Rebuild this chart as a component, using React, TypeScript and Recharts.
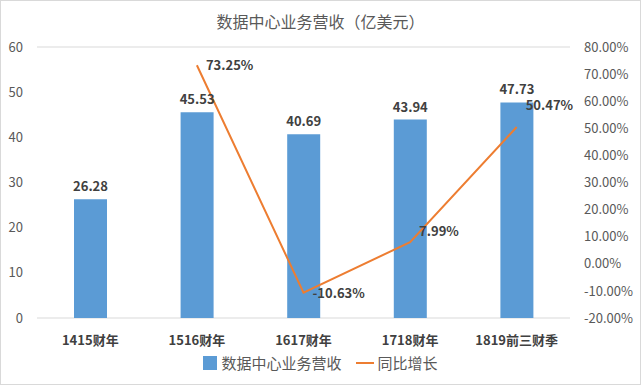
import React from 'react';
import { ComposedChart, Bar, Line, XAxis, YAxis, CartesianGrid, Legend, LabelList } from 'recharts';

const categories = ['1415财年', '1516财年', '1617财年', '1718财年', '1819前三财季'];
const revenue = [26.28, 45.53, 40.69, 43.94, 47.73];
const growth: (number | null)[] = [null, 73.25, -10.63, 7.99, 50.47];
const leftTicks = [0, 10, 20, 30, 40, 50, 60];
const rightTicks = [-20, -10, 0, 10, 20, 30, 40, 50, 60, 70, 80];
const seriesNames = ['数据中心业务营收', '同比增长'];

const data = categories.map((name, i) => ({ name, revenue: revenue[i], growth: growth[i] }));

const FONT = '"Noto Sans CJK SC", "Liberation Sans", sans-serif';
const BLUE = '#5B9BD5';
const ORANGE = '#ED7D31';

// growth labels sit to the right of the point; last ones nudged up a bit
const GrowthLabel = (props: any) => {
    const { x, y, value, index } = props;
    if (value == null) return null;
    const dy = index === 4 ? -17 : index === 3 ? -6 : 5;
    return (
        <text x={x + 9} y={y + dy} fill="#404040" fontSize={13} fontWeight="bold" fontFamily={FONT}>
            {`${value.toFixed(2)}%`}
        </text>
    );
};

const LegendContent = () => (
    <div style={{ display: 'flex', justifyContent: 'center', alignItems: 'center', fontSize: 15, color: '#595959', fontFamily: FONT }}>
        <span style={{ display: 'inline-block', width: 14, height: 14, background: BLUE, marginRight: 4 }} />
        <span style={{ marginRight: 14 }}>{seriesNames[0]}</span>
        <span style={{ display: 'inline-block', width: 18, height: 2, background: ORANGE, marginRight: 4 }} />
        <span>{seriesNames[1]}</span>
    </div>
);

const App: React.FC = () => {
    return (
        <div style={{ position: 'absolute', left: 0, top: 0, width: 639, height: 383, border: '1px solid #d9d9d9', background: '#fff', fontFamily: FONT }}>
            <div style={{ position: 'absolute', top: 8, width: '100%', textAlign: 'center', fontSize: 16, color: '#595959' }}>
                数据中心业务营收（亿美元）
            </div>
            <ComposedChart width={639} height={383} data={data} margin={{ top: 46, right: 0, bottom: 4, left: 0 }}>
                <CartesianGrid vertical={false} stroke="#d9d9d9" />
                <XAxis
                    dataKey="name"
                    axisLine={false}
                    tickLine={false}
                    tickSize={0}
                    tickMargin={18}
                    height={34}
                    tick={{ fill: '#404040', fontSize: 13, fontWeight: 'bold', fontFamily: FONT }}
                />
                <YAxis
                    yAxisId="left"
                    domain={[0, 60]}
                    ticks={leftTicks}
                    width={36}
                    axisLine={false}
                    tickLine={false}
                    tickSize={0}
                    tickMargin={14}
                    tick={{ fill: '#595959', fontSize: 13, fontFamily: FONT }}
                />
                <YAxis
                    yAxisId="right"
                    orientation="right"
                    domain={[-20, 80]}
                    ticks={rightTicks}
                    width={70}
                    axisLine={false}
                    tickLine={false}
                    tickSize={0}
                    tickMargin={14}
                    tickFormatter={(v: number) => `${v.toFixed(2)}%`}
                    tick={{ fill: '#595959', fontSize: 13, fontFamily: FONT }}
                />
                <Bar yAxisId="left" dataKey="revenue" name={seriesNames[0]} fill={BLUE} barSize={33} isAnimationActive={false}>
                    <LabelList dataKey="revenue" position="top" offset={8} fill="#404040" fontSize={13} fontWeight="bold" fontFamily={FONT} formatter={(v: number) => v.toFixed(2)} />
                </Bar>
                <Line yAxisId="right" dataKey="growth" name={seriesNames[1]} stroke={ORANGE} strokeWidth={2} dot={false} isAnimationActive={false}>
                    <LabelList dataKey="growth" content={GrowthLabel} />
                </Line>
                <Legend verticalAlign="bottom" height={28} content={LegendContent} />
            </ComposedChart>
        </div>
    );
};

export default App;
